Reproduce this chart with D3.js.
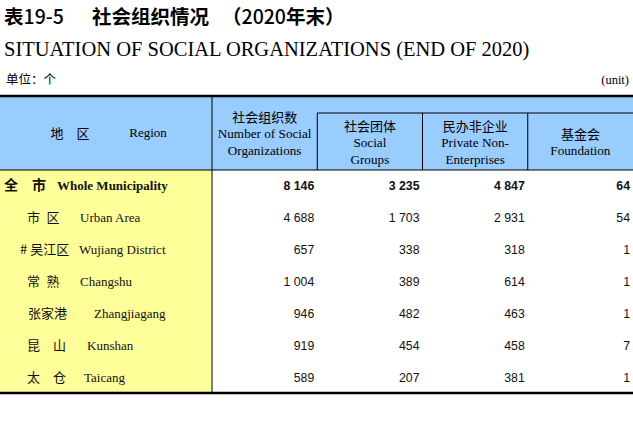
<!DOCTYPE html>
<html><head><meta charset="utf-8">
<script src="https://cdn.jsdelivr.net/npm/d3@7"></script>
<style>body{margin:0;background:#fff}svg{display:block}</style>
</head><body>
<svg id="c" width="633" height="426"></svg>
<script>
const regionsZh = ["全　市","市 区","# 吴江区","常 熟","张家港","昆　山","太　仓"];
const regionsEn = ["Whole Municipality","Urban Area","Wujiang District","Changshu","Zhangjiagang","Kunshan","Taicang"];
const totalOrgs = [8146,4688,657,1004,946,919,589];
const socialGroups = [3235,1703,338,389,482,454,207];
const privateNonEnt = [4847,2931,318,614,463,458,381];
const foundations = [64,54,1,1,1,7,1];
const columnsZh = ["社会组织数","社会团体","民办非企业","基金会"];
const columnsEn = [["Number of Social","Organizations"],["Social","Groups"],["Private Non-","Enterprises"],["Foundation"]];

const svg = d3.select("#c");
const W = 633, regionW = 212, tblTop = 96, subTop = 113, headBot = 170, tblBot = 393;
const CJK = "'Noto Sans CJK SC','Noto Sans',sans-serif";
const SERIF = "'Liberation Serif','DejaVu Serif',serif";
const SANS = "'Liberation Sans',Arial,sans-serif";

const fmt = d3.formatLocale({decimal:".",thousands:" ",grouping:[3],currency:["",""]}).format(",d");

const x = d3.scaleBand().domain(d3.range(4)).range([regionW, W]).paddingInner(0).paddingOuter(0);
const y = d3.scaleBand().domain(d3.range(regionsZh.length)).range([headBot, tblBot]);

// titles
const t1 = svg.append("text").attr("y",24).attr("font-family",CJK).attr("font-size",19.5).attr("fill","#000")
  .attr("xml:space","preserve");
t1.append("tspan").attr("x",4).attr("font-weight",700).text("表");
t1.append("tspan").attr("font-weight",500).text("19-5");
t1.append("tspan").attr("x",92).attr("font-weight",700).text("社会组织情况");
t1.append("tspan").attr("x",222).attr("font-weight",700).text("（");
t1.append("tspan").attr("font-weight",500).text("2020");
t1.append("tspan").attr("font-weight",700).text("年末）");
svg.append("text").attr("x",4).attr("y",56).attr("font-family",SERIF)
  .attr("font-size",20.5).attr("fill","#000").text("SITUATION OF SOCIAL ORGANIZATIONS (END OF 2020)");
svg.append("text").attr("x",6).attr("y",84).attr("font-family",CJK)
  .attr("font-size",12.5).attr("fill","#000").text("单位：个");
svg.append("text").attr("x",629).attr("y",84).attr("text-anchor","end").attr("font-family",SERIF)
  .attr("font-size",12.5).attr("fill","#000").text("(unit)");

// fills
svg.append("rect").attr("x",0).attr("y",tblTop).attr("width",W).attr("height",headBot-tblTop).attr("fill","#99CCFF");
svg.append("rect").attr("x",0).attr("y",headBot).attr("width",regionW).attr("height",tblBot-headBot).attr("fill","#FFFF99");

// lines
const line = (x1,y1,x2,y2,w) => svg.append("line").attr("x1",x1).attr("y1",y1).attr("x2",x2).attr("y2",y2)
  .attr("stroke","#000").attr("stroke-width",w);
line(0,tblTop,W,tblTop,2.5);
line(0,tblBot,W,tblBot,2.5);
line(0,headBot,W,headBot,1);
line(x(1),subTop,W,subTop,1);
line(regionW,tblTop,regionW,tblBot,1);
[1,2,3].forEach(i=>line(x(i),subTop,x(i),headBot,1));

// header: region
svg.append("text").attr("x",70).attr("y",138).attr("text-anchor","middle").attr("font-family",CJK)
  .attr("font-size",13).text("地　区");
svg.append("text").attr("x",148).attr("y",137).attr("text-anchor","middle").attr("font-family",SERIF)
  .attr("font-size",13).text("Region");

// header: columns
const hdr = svg.selectAll("g.hdr").data(d3.range(4)).join("g").attr("class","hdr")
  .attr("transform",i=>`translate(${x(i)+x.bandwidth()/2},0)`);
const zhY = [122,131,131,139], enY = [[138,155],[147,164],[147,164],[155]];
hdr.append("text").attr("y",i=>zhY[i]).attr("text-anchor","middle").attr("font-family",CJK)
  .attr("font-size",13).text(i=>columnsZh[i]);
hdr.each(function(i){
  d3.select(this).selectAll("text.en").data(columnsEn[i]).join("text").attr("class","en")
    .attr("y",(d,j)=>enY[i][j]).attr("text-anchor","middle").attr("font-family",SERIF)
    .attr("font-size",13.2).text(d=>d);
});

// rows
const zhX = [4,27,20,27,28,27,27], enX = [57,80,79,80,94,87,84];
const rows = svg.selectAll("g.row").data(d3.range(regionsZh.length)).join("g").attr("class","row")
  .attr("transform",i=>`translate(0,${y(i)+y.bandwidth()/2+4.5})`);
rows.append("text").attr("x",i=>zhX[i]).attr("font-family",CJK).attr("font-size",i=>i===0?14:13)
  .attr("xml:space","preserve")
  .attr("font-weight",i=>i===0?700:400).attr("fill","#111")
  .text(i=>regionsZh[i].replace(/^(\S) (\S)$/,"$1\u2002$2"));
rows.append("text").attr("x",i=>enX[i]).attr("font-family",SERIF).attr("font-size",13)
  .attr("font-weight",i=>i===0?700:400).attr("fill","#111").text(i=>regionsEn[i]);
const series = [totalOrgs, socialGroups, privateNonEnt, foundations];
rows.each(function(i){
  d3.select(this).selectAll("text.num").data(series.map(s=>s[i])).join("text").attr("class","num")
    .attr("x",(d,j)=>x(j)+x.bandwidth()-3).attr("text-anchor","end").attr("font-family",SANS)
    .attr("font-size",12.3).attr("font-weight",i===0?700:400).attr("fill","#111").text(d=>fmt(d));
});
</script>
</body></html>
